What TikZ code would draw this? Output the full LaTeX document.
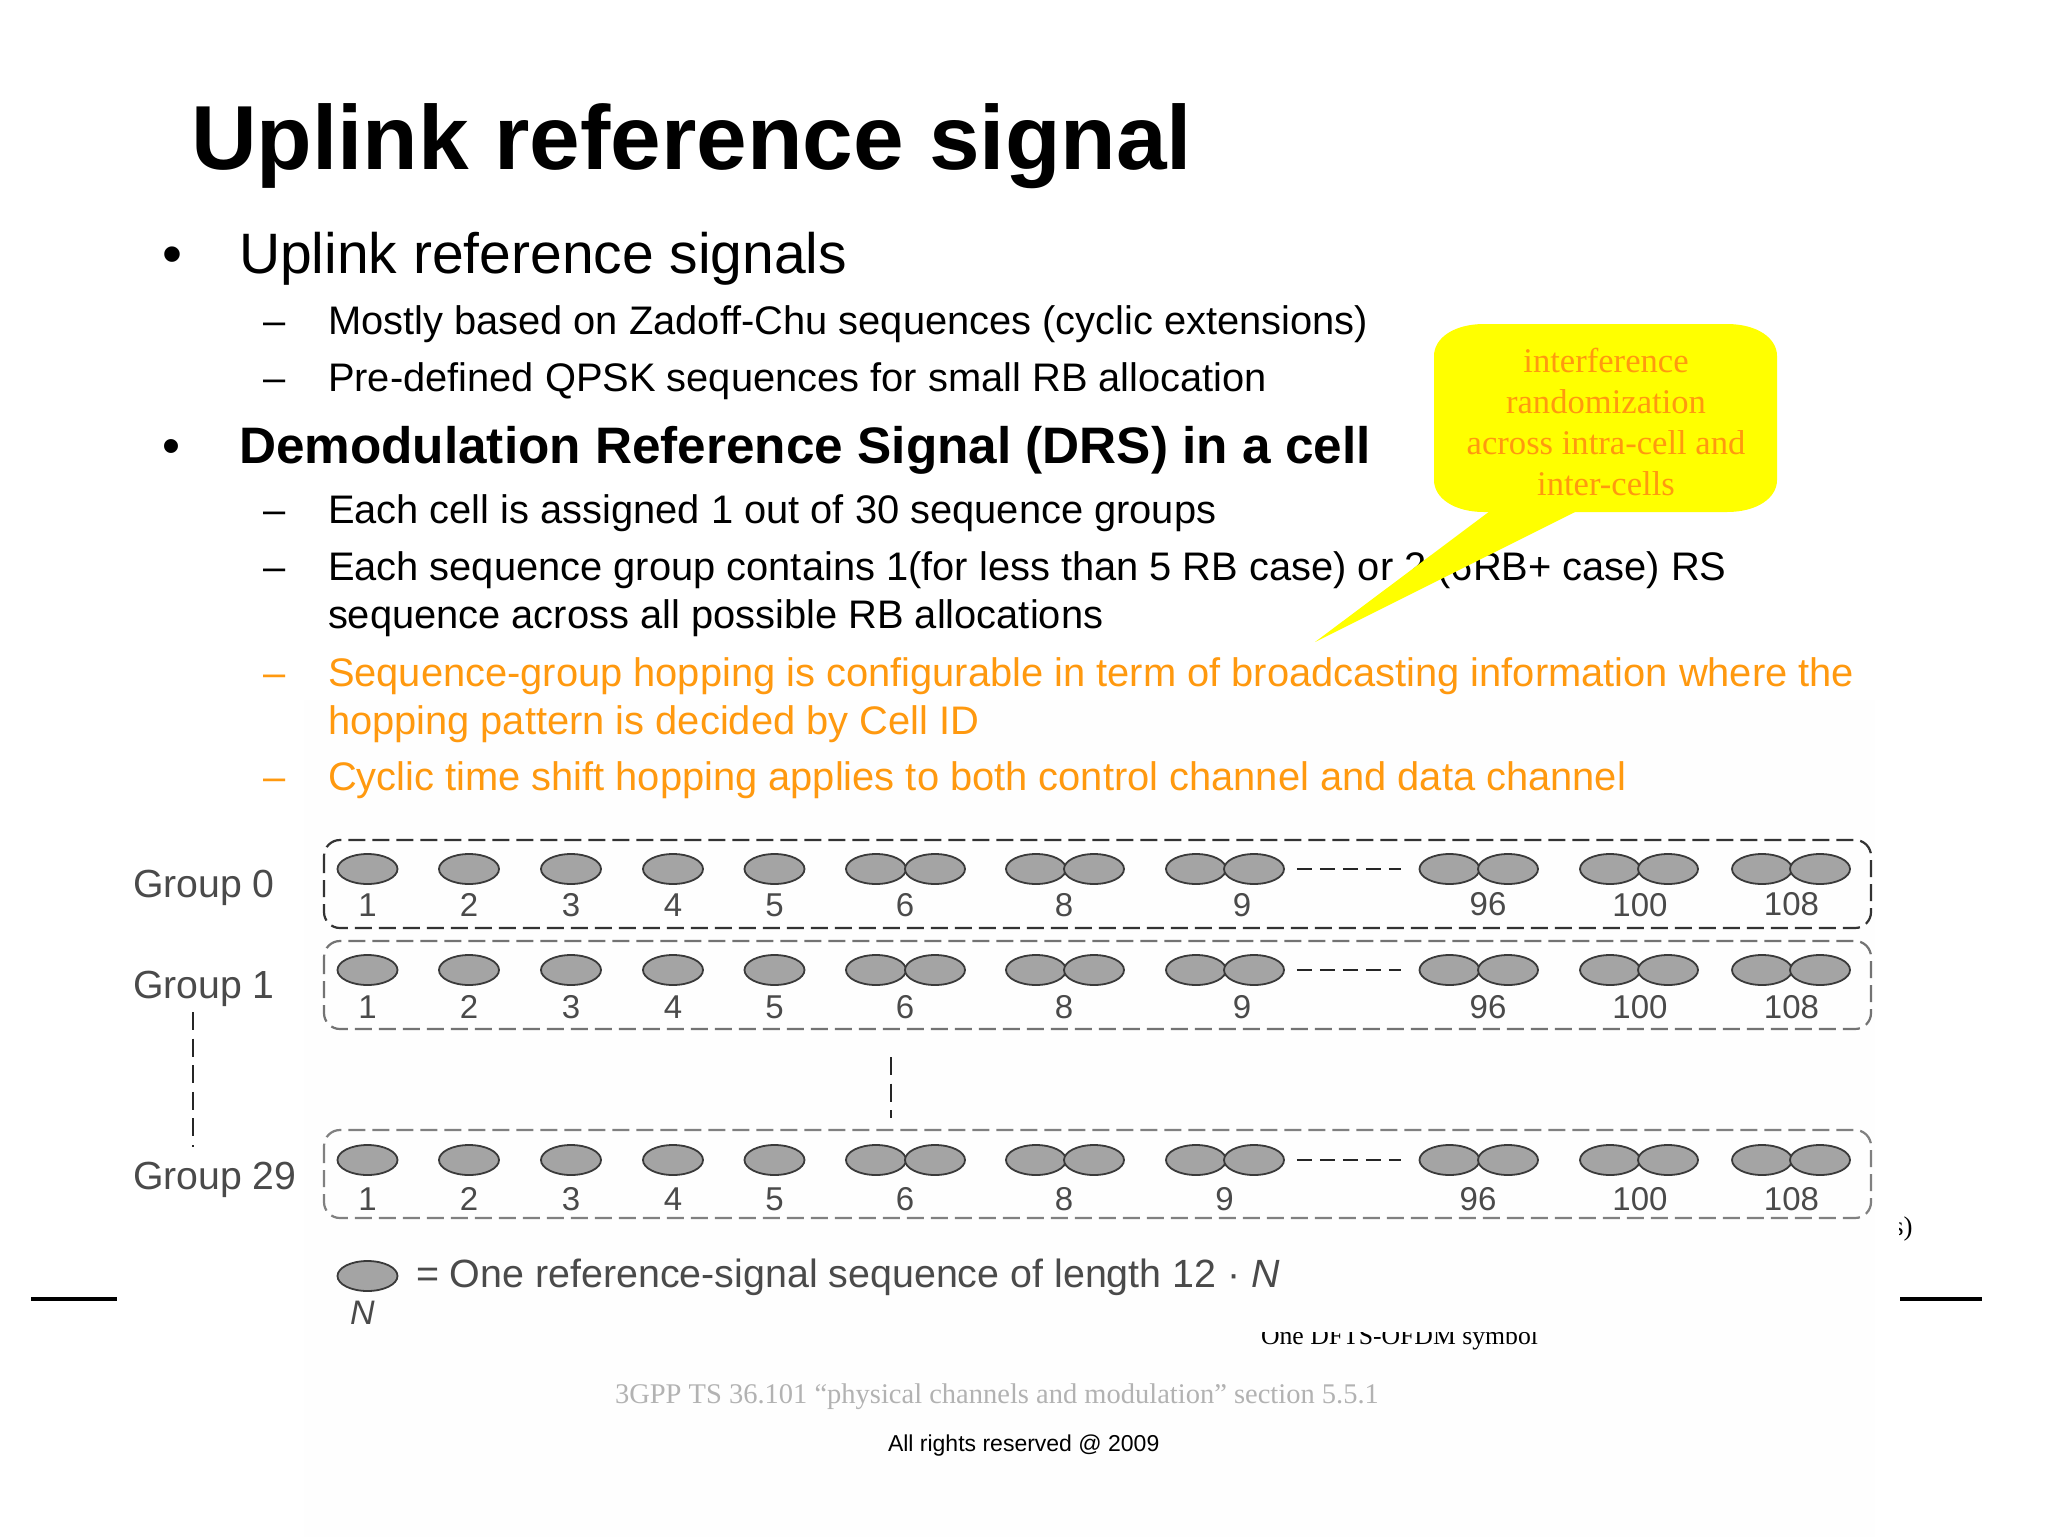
\documentclass[tikz,border=0pt]{standalone}
\usepackage{fontspec}
\setmainfont{Liberation Sans}
\newfontfamily\serifface{Liberation Serif}
\usetikzlibrary{shapes.geometric}
\definecolor{hoporange}{HTML}{FF990F}
\definecolor{calloutyellow}{HTML}{FFFF00}
\definecolor{rsfill}{HTML}{A4A4A4}
\definecolor{rsink}{HTML}{3A3A3A}
\definecolor{figtext}{HTML}{4A4A4A}
\definecolor{panelwhite}{HTML}{FEFEFE}
\newcommand{\fsz}[1]{\fontsize{#1}{#1}\selectfont}
\tikzset{
  txt/.style={anchor=base west,inner sep=0pt,outer sep=0pt},
  ctxt/.style={anchor=base,inner sep=0pt,outer sep=0pt},
  lone/.style={txt,font=\fsz{57}},
  ltwo/.style={txt,font=\fsz{39.85}},
  rsseq/.style={ellipse,draw=rsink,fill=rsfill,line width=1.8pt,minimum width=60pt,minimum height=30pt,inner sep=0pt},
  grouplab/.style={txt,font=\fsz{39.2},text=figtext},
  numlab/.style={ctxt,font=\fsz{33},text=figtext},
  calloutlab/.style={ctxt,font=\serifface\fsz{34.6},text=hoporange},
  groupbox/.style={draw=#1,line width=2.2pt,rounded corners=16pt,dash pattern=on 17pt off 7pt},
  figdash/.style={draw=#1,line width=2pt,dash pattern=on 15pt off 8pt},
  sepline/.style={draw=black,line width=3.4pt}
}
\begin{document}
\begin{tikzpicture}[x=1pt,y=-1pt]
\useasboundingbox (0,0) rectangle (2048,1537);
\fill[white] (0,0) rectangle (2048,1537);
% text behind the pasted figure
\begin{scope}
  \clip (1899,1200) rectangle (1960,1260);
  \node[txt,font=\serifface\fsz{27}] (frag) at (1872,1235) {ols)};
\end{scope}
\fill[panelwhite] (304,700) rectangle (1875,1537);
\begin{scope}
  \clip (1200,1332) rectangle (1600,1360);
  \node[txt,font=\serifface\fsz{25.7}] (sym) at (1261,1344) {One DFTS-OFDM symbol};
\end{scope}
\draw[sepline] (31,1299) -- (117,1299);
\draw[sepline] (1900,1299) -- (1982,1299);
% title and bullets
\node[txt,font=\bfseries\fsz{91}] (title) at (191,169) {Uplink reference signal};
\node[txt,font=\fsz{57}] (b1) at (162,273) {•};
\node[lone] (l1) at (239,273) {Uplink reference signals};
\node[ltwo] (d1) at (263,334.5) {–};
\node[ltwo] (t1) at (328,334.5) {Mostly based on Zadoff-Chu sequences (cyclic extensions)};
\node[ltwo] (d2) at (263,391) {–};
\node[ltwo] (t2) at (328,391) {Pre-defined QPSK sequences for small RB allocation};
\node[txt,font=\fsz{51.3}] (b2) at (162,463) {•};
\node[txt,font=\bfseries\fsz{51.3}] (l2) at (239,463) {Demodulation Reference Signal (DRS) in a cell};
\node[ltwo] (d3) at (263,523) {–};
\node[ltwo] (t3) at (328,523) {Each cell is assigned 1 out of 30 sequence groups};
\node[ltwo] (d4) at (263,580) {–};
\node[ltwo] (t4) at (328,580) {Each sequence group contains 1(for less than 5 RB case) or 2 (6RB+ case) RS};
\node[ltwo] (t4b) at (328,628.5) {sequence across all possible RB allocations};
\node[ltwo,text=hoporange] (d5) at (263,686) {–};
\node[ltwo,text=hoporange] (t5) at (328,686) {Sequence-group hopping is configurable in term of broadcasting information where the};
\node[ltwo,text=hoporange] (t5b) at (328,734) {hopping pattern is decided by Cell ID};
\node[ltwo,text=hoporange] (d6) at (263,790.5) {–};
\node[ltwo,text=hoporange] (t6) at (328,790.5) {Cyclic time shift hopping applies to both control channel and data channel};
% callout
\fill[calloutyellow] (1490,511) -- (1315,642) -- (1577,511) -- cycle;
\fill[calloutyellow] (1484,324) -- (1727,324)
  .. controls (1757,324) and (1777,338) .. (1777,356) -- (1777,480)
  .. controls (1777,498) and (1757,512) .. (1727,512) -- (1484,512)
  .. controls (1454,512) and (1434,498) .. (1434,480) -- (1434,356)
  .. controls (1434,338) and (1454,324) .. (1484,324) -- cycle;
\node[calloutlab] (c1) at (1606,372.5) {interference};
\node[calloutlab] (c2) at (1606,413.5) {randomization};
\node[calloutlab] (c3) at (1606,454.5) {across intra-cell and};
\node[calloutlab] (c4) at (1606,495.5) {inter-cells};
% figure rows
\foreach \r/\top/\bot/\ey/\ny/\nyb/\nineX/\sixX/\ink in {
  a/840/928/869/904.5/903/1242/1488/black!80,
  b/941/1029/970/1006.5/1006.5/1242/1488/black!55,
  c/1130/1218/1160/1198.5/1198.5/1224.5/1478/black!50}{
  \draw[groupbox=\ink] (324,\top) rectangle (1871,\bot);
  \foreach \n/\cx in {1/367.5,2/469,3/571,4/673,5/774.5}{
    \node[rsseq] (e\r\n) at (\cx,\ey) {};
    \node[numlab] (n\r\n) at (\cx,\ny+12) {\n};
  }
  \foreach \n/\cl/\cc/\lx/\ly in {6/876/935/905/\ny,8/1036/1094/1064/\ny,9/1196/1254/\nineX/\ny,96/1449.5/1508/\sixX/\nyb,100/1610/1668/1640/\ny,108/1762/1820/1791.5/\nyb}{
    \node[rsseq] (e\r\n l) at (\cl,\ey) {};
    \node[rsseq] (e\r\n r) at (\cc,\ey) {};
    \node[numlab] (n\r\n) at (\lx,\ly+12) {\n};
  }
  \path (e\r9r.east) ++(12,0) coordinate (ds\r) (e\r96l.west) ++(-18,0) coordinate (de\r);
  \draw[figdash=black!85] (ds\r) -- (de\r);
}
\node[grouplab] (g0) at (133,897.6) {Group 0};
\node[grouplab] (g1) at (133,998.6) {Group 1};
\node[grouplab] (g29) at (133,1189) {Group 29};
\coordinate (vla) at (193,1012);
\coordinate (vlb) at (193,1147);
\coordinate (vma) at (890.5,1057);
\coordinate (vmb) at (890.5,1118);
\draw[draw=black!85,line width=2pt,dash pattern=on 18pt off 8.6pt] (vla) -- (vlb);
\draw[draw=black!85,line width=2pt,dash pattern=on 18pt off 8.6pt] (vma) -- (vmb);
% legend
\node[rsseq] (leg) at (367.5,1276) {};
\node[txt,font=\fsz{39.4},text=figtext] (legt) at (416,1287) {= One reference-signal sequence of length 12 · \textit{N}};
\node[txt,font=\itshape\fsz{34},text=figtext] (legn) at (350,1324) {N};
% footer
\node[txt,font=\serifface\fsz{28.5},text=black!30] (src) at (615,1403) {3GPP TS 36.101 “physical channels and modulation” section 5.5.1};
\node[txt,font=\fsz{23},text=black] (rights) at (888,1451) {All rights reserved @ 2009};
\end{tikzpicture}
\end{document}
